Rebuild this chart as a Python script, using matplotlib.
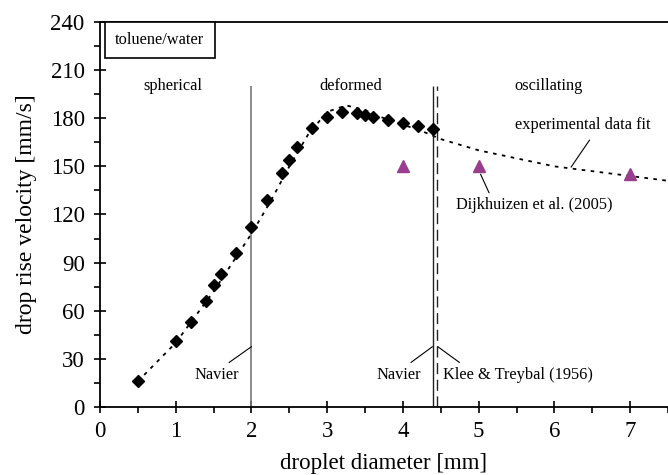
import numpy as np
import matplotlib.pyplot as plt
from matplotlib.ticker import MultipleLocator

plt.rcParams['font.family'] = ['Liberation Serif', 'DejaVu Serif']

# measured rise velocities, toluene/water
d_exp = [0.5, 1.0, 1.2, 1.4, 1.5, 1.6, 1.8, 2.0, 2.2, 2.4, 2.5, 2.6, 2.8,
         3.0, 3.2, 3.4, 3.5, 3.6, 3.8, 4.0, 4.2, 4.4]
v_exp = [16, 41, 53, 66, 76, 83, 96, 112, 129, 146, 154, 162, 174,
         181, 184, 183, 182, 181, 179, 177, 175, 173]

# fit of the experimental data
d_fit = [0.5, 0.75, 1.0, 1.25, 1.5, 1.75, 2.0, 2.25, 2.5, 2.75, 3.0, 3.25,
         3.5, 3.75, 4.0, 4.25, 4.5, 5.0, 5.5, 6.0, 6.5, 7.0, 7.5]
v_fit = [16, 28, 40, 56, 72, 90, 108, 128, 150, 170, 184, 188,
         185, 180, 176, 172, 167, 160, 155, 150, 147, 144, 141]

# Dijkhuizen et al. (2005)
d_dijk = [4.0, 5.0, 7.0]
v_dijk = [150, 150, 145]

d_navier = [2.0, 4.4]
d_klee = 4.45

fig = plt.figure(figsize=(6.68, 4.75), dpi=100)
ax = fig.add_axes([0.1497, 0.1432, 0.8503, 0.8105])

ax.plot(d_fit, v_fit, ls=(0, (2, 3)), color='black', lw=1.3, zorder=2)
ax.plot(d_exp, v_exp, 'D', color='black', ms=6.5, zorder=3)
ax.plot(d_dijk, v_dijk, '^', color='#993d8f', ms=8.5, zorder=3)

ax.vlines(d_navier[0], 0, 200, color='#777777', lw=1.2)
ax.vlines(d_navier[1], 0, 200, color='#222222', lw=1.0)
ax.vlines(d_klee, 0, 200, color='#222222', lw=1.0, linestyles=(0, (8, 4)))

ax.set_xlim(0, 7.5)
ax.set_ylim(0, 240)
ax.xaxis.set_major_locator(MultipleLocator(1))
ax.xaxis.set_minor_locator(MultipleLocator(0.5))
ax.yaxis.set_major_locator(MultipleLocator(30))
ax.yaxis.set_minor_locator(MultipleLocator(15))
ax.tick_params(which='major', direction='inout', length=8, width=1.2, labelsize=16.5)
ax.tick_params(which='minor', direction='out', length=4, width=1.2)
ax.tick_params(axis='x', pad=6)
ax.tick_params(axis='y', pad=7)
for s in ['left', 'bottom', 'top']:
    ax.spines[s].set_linewidth(1.3)
ax.spines['right'].set_visible(False)

ax.set_xlabel('droplet diameter [mm]', fontsize=16.5, labelpad=8)
ax.set_ylabel('drop rise velocity [mm/s]', fontsize=17, labelpad=10)

fs = 11.8
ax.text(0.96, 200, 'spherical', ha='center', va='center', fontsize=fs)
ax.text(3.31, 200, 'deformed', ha='center', va='center', fontsize=fs)
ax.text(5.92, 200, 'oscillating', ha='center', va='center', fontsize=fs)
ax.text(0.027, 0.953, 'toluene/water', transform=ax.transAxes, fontsize=fs,
        va='center', ha='left',
        bbox=dict(boxstyle='square,pad=0.62', fc='white', ec='black', lw=1.2))

leader = dict(arrowstyle='-', lw=0.8, shrinkB=0)
ax.annotate('Navier', xy=(2.0, 37.6), xytext=(1.54, 20), fontsize=fs,
            ha='center', va='center',
            arrowprops=dict(leader, shrinkA=2, relpos=(0.64, 1.0)))
ax.annotate('Navier', xy=(4.39, 37.6), xytext=(3.95, 20), fontsize=fs,
            ha='center', va='center',
            arrowprops=dict(leader, shrinkA=2, relpos=(0.63, 1.0)))
ax.annotate('Klee & Treybal (1956)', xy=(4.46, 37.6), xytext=(4.53, 20),
            fontsize=fs, ha='left', va='center',
            arrowprops=dict(leader, shrinkA=2, relpos=(0.15, 1.0)))
ax.annotate('experimental data fit', xy=(6.22, 149.5), xytext=(6.37, 176),
            fontsize=fs, ha='center', va='center',
            arrowprops=dict(leader, shrinkA=4, relpos=(0.59, 0.0)))
ax.annotate('Dijkhuizen et al. (2005)', xy=(5.01, 146.7), xytext=(5.74, 126),
            fontsize=fs, ha='center', va='center',
            arrowprops=dict(leader, shrinkA=1, shrinkB=2, relpos=(0.22, 1.0)))

fig.savefig('out.png', dpi=100)
